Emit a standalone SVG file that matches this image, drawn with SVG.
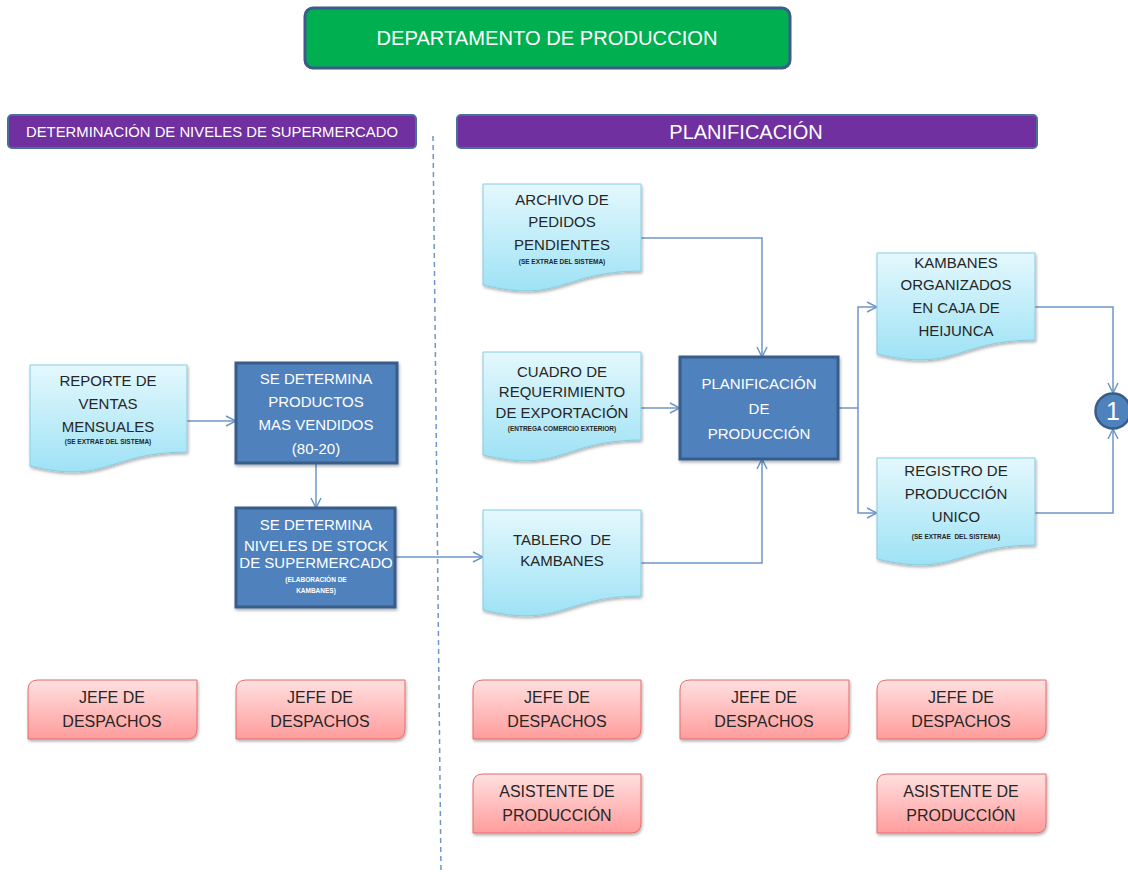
<svg xmlns="http://www.w3.org/2000/svg" width="1128" height="872" viewBox="0 0 1128 872">
<defs>
<linearGradient id="docG" x1="0" y1="0" x2="0" y2="1"><stop offset="0" stop-color="#E4F8FD"/><stop offset="1" stop-color="#9EE2F5"/></linearGradient>
<linearGradient id="redG" x1="0" y1="0" x2="0" y2="1"><stop offset="0" stop-color="#FFE0E0"/><stop offset="1" stop-color="#FF9C9C"/></linearGradient>
<filter id="sh" x="-10%" y="-10%" width="130%" height="130%"><feDropShadow dx="1" dy="2" stdDeviation="1.5" flood-color="#000" flood-opacity="0.3"/></filter>
<marker id="ar" viewBox="0 0 12 12" refX="11" refY="6" markerWidth="12" markerHeight="12" markerUnits="userSpaceOnUse" orient="auto"><path d="M1,1 L11,6 L1,11" fill="none" stroke="#6F96C8" stroke-width="1.5"/></marker>
</defs>
<style>
text{font-family:"Liberation Sans",Arial,sans-serif;text-anchor:middle}
.doc{fill:url(#docG);stroke:#86CDE0;stroke-width:1;filter:url(#sh)}
.blue{fill:#4F81BD;stroke:#385D8A;stroke-width:3;filter:url(#sh)}
.red{fill:url(#redG);stroke:#E46C6C;stroke-width:1;filter:url(#sh)}
.dt{font-size:15px;fill:#262626}
.sm{font-size:6.5px;font-weight:bold;fill:#262626}
.wt{fill:#fff;font-size:15px}
.rt{font-size:16px;fill:#262626}
.con{fill:none;stroke:#6F96C8;stroke-width:1.5}
</style>

<g id="title">
<rect x="305" y="8" width="485" height="60" rx="8" fill="#00B050" stroke="#3B5B8C" stroke-width="3"/>
<text x="547" y="45" font-size="20" fill="#fff" textLength="341" lengthAdjust="spacingAndGlyphs">DEPARTAMENTO DE PRODUCCION</text>
</g>
<g id="hdr-left">
<rect x="8" y="115" width="408" height="33" rx="4" fill="#7030A0" stroke="#4A6E9E" stroke-width="2"/>
<text x="212" y="137" font-size="14.5" fill="#fff" textLength="372" lengthAdjust="spacingAndGlyphs">DETERMINACIÓN DE NIVELES DE SUPERMERCADO</text>
</g>
<g id="hdr-right">
<rect x="457" y="115" width="580" height="33" rx="4" fill="#7030A0" stroke="#4A6E9E" stroke-width="2"/>
<text x="746" y="139" font-size="20" fill="#fff">PLANIFICACIÓN</text>
</g>
<line id="divider" x1="433" y1="136" x2="441" y2="872" stroke="#6F96C8" stroke-width="1.5" stroke-dasharray="5,4"/>

<g id="connectors">
<path class="con" d="M187,421 H236" marker-end="url(#ar)"/>
<path class="con" d="M316,463 V508" marker-end="url(#ar)"/>
<path class="con" d="M395,557 H483" marker-end="url(#ar)"/>
<path class="con" d="M641,238 H762 V357" marker-end="url(#ar)"/>
<path class="con" d="M641,408 H680" marker-end="url(#ar)"/>
<path class="con" d="M641,563 H762 V459" marker-end="url(#ar)"/>
<path class="con" d="M838,408 H858"/>
<path class="con" d="M858,408 V307 H877" marker-end="url(#ar)"/>
<path class="con" d="M858,408 V513 H877" marker-end="url(#ar)"/>
<path class="con" d="M1035,307 H1113 V393" marker-end="url(#ar)"/>
<path class="con" d="M1035,513 H1113 V429" marker-end="url(#ar)"/>
</g>

<g id="reporte">
<path class="doc" d="M30,365 H187 V452 C108,452 108,485 30,466 Z"/>
<text class="dt" x="108" y="386">REPORTE DE</text>
<text class="dt" x="108" y="409">VENTAS</text>
<text class="dt" x="108" y="432">MENSUALES</text>
<text class="sm" x="108" y="444">(SE EXTRAE DEL SISTEMA)</text>
</g>
<g id="productos">
<rect class="blue" x="236" y="363" width="161" height="100"/>
<text class="wt" x="316" y="384">SE DETERMINA</text>
<text class="wt" x="316" y="407">PRODUCTOS</text>
<text class="wt" x="316" y="430">MAS VENDIDOS</text>
<text class="wt" x="316" y="454">(80-20)</text>
</g>
<g id="niveles">
<rect class="blue" x="236" y="508" width="159" height="99"/>
<text class="wt" x="316" y="530" font-size="14">SE DETERMINA</text>
<text class="wt" x="316" y="551" font-size="14">NIVELES DE STOCK</text>
<text class="wt" x="316" y="568" font-size="14">DE SUPERMERCADO</text>
<text x="316" y="582" font-size="6.5" font-weight="bold" fill="#fff">(ELABORACIÓN  DE</text>
<text x="316" y="593" font-size="6.5" font-weight="bold" fill="#fff">KAMBANES)</text>
</g>
<g id="archivo">
<path class="doc" d="M483,184 H641 V271 C562,271 562,304 483,285 Z"/>
<text class="dt" x="562" y="205">ARCHIVO DE</text>
<text class="dt" x="562" y="227">PEDIDOS</text>
<text class="dt" x="562" y="250">PENDIENTES</text>
<text class="sm" x="562" y="264">(SE EXTRAE DEL SISTEMA)</text>
</g>
<g id="cuadro">
<path class="doc" d="M483,352 H641 V440 C562,440 562,474 483,455 Z"/>
<text class="dt" x="562" y="377" font-size="14">CUADRO DE</text>
<text class="dt" x="562" y="397" font-size="14">REQUERIMIENTO</text>
<text class="dt" x="562" y="418" font-size="14">DE EXPORTACIÓN</text>
<text class="sm" x="562" y="431" font-size="6">(ENTREGA COMERCIO EXTERIOR)</text>
</g>
<g id="tablero">
<path class="doc" d="M483,510 H641 V596 C562,596 562,629 483,610 Z"/>
<text class="dt" x="562" y="545" font-size="14" xml:space="preserve">TABLERO  DE</text>
<text class="dt" x="562" y="566" font-size="14">KAMBANES</text>
</g>
<g id="planificacion">
<rect class="blue" x="680" y="357" width="158" height="102"/>
<text class="wt" x="759" y="389" font-size="17">PLANIFICACIÓN</text>
<text class="wt" x="759" y="414" font-size="17">DE</text>
<text class="wt" x="759" y="439" font-size="17">PRODUCCIÓN</text>
</g>
<g id="kambanes">
<path class="doc" d="M877,253 H1035 V340 C956,340 956,373 877,354 Z"/>
<text class="dt" x="956" y="268">KAMBANES</text>
<text class="dt" x="956" y="290">ORGANIZADOS</text>
<text class="dt" x="956" y="313">EN CAJA DE</text>
<text class="dt" x="956" y="336">HEIJUNCA</text>
</g>
<g id="registro">
<path class="doc" d="M877,458 H1035 V545 C956,545 956,578 877,559 Z"/>
<text class="dt" x="956" y="476">REGISTRO DE</text>
<text class="dt" x="956" y="499">PRODUCCIÓN</text>
<text class="dt" x="956" y="522">UNICO</text>
<text class="sm" x="956" y="539" font-size="7.5" xml:space="preserve">(SE EXTRAE  DEL SISTEMA)</text>
</g>
<g id="conector1">
<circle cx="1113" cy="411" r="17.5" fill="#4F81BD" stroke="#385D8A" stroke-width="2.5"/>
<text x="1113" y="420" font-size="25" fill="#fff">1</text>
</g>

<g id="jefe1"><path class="red" d="M38,680 H197 V729 Q197,739 187,739 H28 V690 Q28,680 38,680 Z"/><text class="rt" x="112" y="703">JEFE DE</text><text class="rt" x="112" y="727">DESPACHOS</text></g>
<g id="jefe2"><path class="red" d="M246,680 H405 V729 Q405,739 395,739 H236 V690 Q236,680 246,680 Z"/><text class="rt" x="320" y="703">JEFE DE</text><text class="rt" x="320" y="727">DESPACHOS</text></g>
<g id="jefe3"><path class="red" d="M483,680 H641 V729 Q641,739 631,739 H473 V690 Q473,680 483,680 Z"/><text class="rt" x="557" y="703">JEFE DE</text><text class="rt" x="557" y="727">DESPACHOS</text></g>
<g id="jefe4"><path class="red" d="M690,680 H849 V729 Q849,739 839,739 H680 V690 Q680,680 690,680 Z"/><text class="rt" x="764" y="703">JEFE DE</text><text class="rt" x="764" y="727">DESPACHOS</text></g>
<g id="jefe5"><path class="red" d="M887,680 H1046 V729 Q1046,739 1036,739 H877 V690 Q877,680 887,680 Z"/><text class="rt" x="961" y="703">JEFE DE</text><text class="rt" x="961" y="727">DESPACHOS</text></g>
<g id="asistente1"><path class="red" d="M483,774 H641 V823 Q641,833 631,833 H473 V784 Q473,774 483,774 Z"/><text class="rt" x="557" y="797">ASISTENTE DE</text><text class="rt" x="557" y="821">PRODUCCIÓN</text></g>
<g id="asistente2"><path class="red" d="M887,774 H1046 V823 Q1046,833 1036,833 H877 V784 Q877,774 887,774 Z"/><text class="rt" x="961" y="797">ASISTENTE DE</text><text class="rt" x="961" y="821">PRODUCCIÓN</text></g>
</svg>
